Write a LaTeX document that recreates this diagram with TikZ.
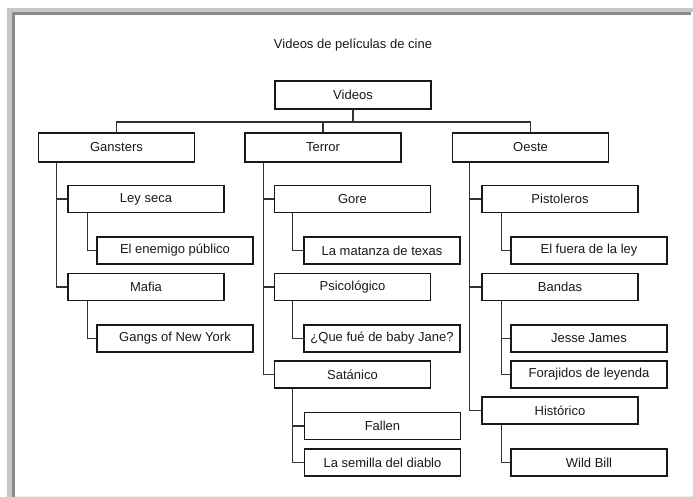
\documentclass[tikz,border=0pt]{standalone}
\usepackage{fontspec}
\setmainfont{Liberation Sans}
\begin{document}
\begin{tikzpicture}[x=1pt,y=-1pt,
  every node/.style={font=\fontsize{13}{15}\selectfont, text=black!90},
  box/.style={draw=black!90, line width=1.2pt, rectangle, inner sep=0pt, minimum width=156pt, minimum height=27pt},
  topbox/.style={box, minimum height=29pt},
  link/.style={draw=black!80, line width=1.1pt}]
\useasboundingbox (0,0) rectangle (693,497);
% window frame
\fill[black!22] (7,8) rectangle (693,12);
\fill[black!22] (7,8) rectangle (12,497);
\fill[black!45] (12,12) rectangle (691,15);
\fill[black!45] (12,12) rectangle (15,497);
\fill[black!8] (15,495.5) rectangle (693,497);
% title
\node (title) at (353,45) {Videos de películas de cine};
% nodes
\node[topbox, minimum height=28pt] (vid) at (353,95) {Videos};
\node[topbox] (gan) at (116.5,147.5) {Gansters};
\node[topbox] (ter) at (323,147.5) {Terror};
\node[topbox] (oes) at (530.5,147.5) {Oeste};
\node[box] (ley) at (146,199) {Ley seca};
\node[box] (ene) at (175,250.5) {El enemigo público};
\node[box] (maf) at (146,287) {Mafia};
\node[box] (gng) at (175,338.5) {Gangs of New York};
\node[box] (gor) at (352.5,199) {Gore};
\node[box] (mat) at (382,250.5) {La matanza de texas};
\node[box] (psi) at (352.5,287) {Psicológico};
\node[box] (que) at (382,338.5) {¿Que fué de baby Jane?};
\node[box] (sat) at (352.5,374.5) {Satánico};
\node[box] (fal) at (382.5,426) {Fallen};
\node[box] (sem) at (382.5,462.5) {La semilla del diablo};
\node[box] (pis) at (560,199) {Pistoleros};
\node[box] (fue) at (589,250.5) {El fuera de la ley};
\node[box] (ban) at (560,287) {Bandas};
\node[box] (jes) at (589,338.5) {Jesse James};
\node[box] (for) at (589,374.5) {Forajidos de leyenda};
\node[box] (his) at (560,410.5) {Histórico};
\node[box] (wil) at (589,462.5) {Wild Bill};
% connectors
\coordinate (bus) at (0,122);
\draw[link] (vid.south) -- (vid.south |- bus);
\draw[link] (gan.north) -- (gan.north |- bus) -| (oes.north);
\draw[link] (ter.north) -- (ter.north |- bus);
% Gansters
\draw[link] ([xshift=19pt]gan.south west) |- (maf.west);
\draw[link] ([xshift=19pt]gan.south west |- ley.west) -- (ley.west);
\draw[link] ([xshift=20pt]ley.south west) |- (ene.west);
\draw[link] ([xshift=20pt]maf.south west) |- (gng.west);
% Terror
\draw[link] ([xshift=19pt]ter.south west) |- (sat.west);
\draw[link] ([xshift=19pt]ter.south west |- gor.west) -- (gor.west);
\draw[link] ([xshift=19pt]ter.south west |- psi.west) -- (psi.west);
\draw[link] ([xshift=19pt]gor.south west) |- (mat.west);
\draw[link] ([xshift=19pt]psi.south west) |- (que.west);
\draw[link] ([xshift=19pt]sat.south west) |- (sem.west);
\draw[link] ([xshift=19pt]sat.south west |- fal.west) -- (fal.west);
% Oeste
\draw[link] ([xshift=18pt]oes.south west) |- (his.west);
\draw[link] ([xshift=18pt]oes.south west |- pis.west) -- (pis.west);
\draw[link] ([xshift=18pt]oes.south west |- ban.west) -- (ban.west);
\draw[link] ([xshift=20pt]pis.south west) |- (fue.west);
\draw[link] ([xshift=20pt]ban.south west) |- (for.west);
\draw[link] ([xshift=20pt]ban.south west |- jes.west) -- (jes.west);
\draw[link] ([xshift=20pt]his.south west) |- (wil.west);
\end{tikzpicture}
\end{document}
